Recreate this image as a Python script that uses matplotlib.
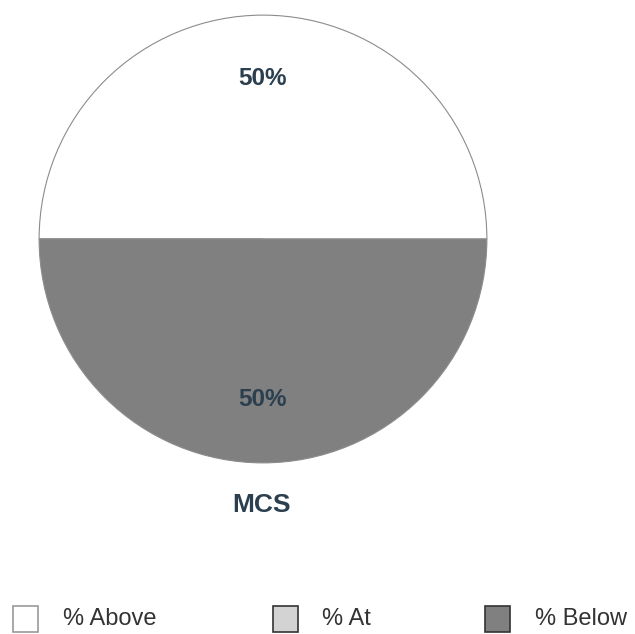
import matplotlib.pyplot as plt
from matplotlib.patches import Rectangle

# data
categories = ['% Above', '% At', '% Below']
values = [50, 0, 50]
colors = ['#ffffff', '#d3d3d3', '#808080']
edge_colors = ['#999999', '#333333', '#333333']
title = 'MCS'

plt.rcParams['font.family'] = ['Liberation Sans', 'DejaVu Sans']

fig = plt.figure(figsize=(6.35, 6.34), dpi=100)
W, H = 635, 634

# pie axes: centre (263, 239), radius 225 px
cx, cy, r = 263, 239, 225
ax = fig.add_axes([(cx - r) / W, (H - cy - r) / H, 2 * r / W, 2 * r / H])


def pct(p):
    return '' if p < 0.5 else f'{p:.0f}%'


wedges, texts, autotexts = ax.pie(
    values, colors=colors, startangle=0, counterclock=True,
    autopct=pct, pctdistance=0.715,
    wedgeprops=dict(edgecolor='#8c8c8c', linewidth=0.8),
    textprops=dict(fontsize=17.5, fontweight='bold', color='#2b3f4f'))
ax.set_xlim(-1.005, 1.005)
ax.set_ylim(-1.005, 1.005)
ax.set_aspect('equal')
ax.axis('off')

fig.text(261 / W, 1 - 505 / H, title, ha='center', va='center',
         fontsize=19, fontweight='bold', color='#2b3f4f')

# legend drawn along the bottom
box_x = [13, 273, 485]
text_x = [63, 322, 535]
box_w, box_h = 25, 26
ly = 619
for bx, tx, lab, fc, ec in zip(box_x, text_x, categories, colors, edge_colors):
    fig.add_artist(Rectangle((bx / W, 1 - (ly + box_h / 2) / H), box_w / W, box_h / H,
                             transform=fig.transFigure, facecolor=fc,
                             edgecolor=ec, linewidth=1.2))
    fig.text(tx / W, 1 - ly / H, lab, ha='left', va='center',
             fontsize=17, color='#333333')

fig.savefig('out.png', dpi=100)
